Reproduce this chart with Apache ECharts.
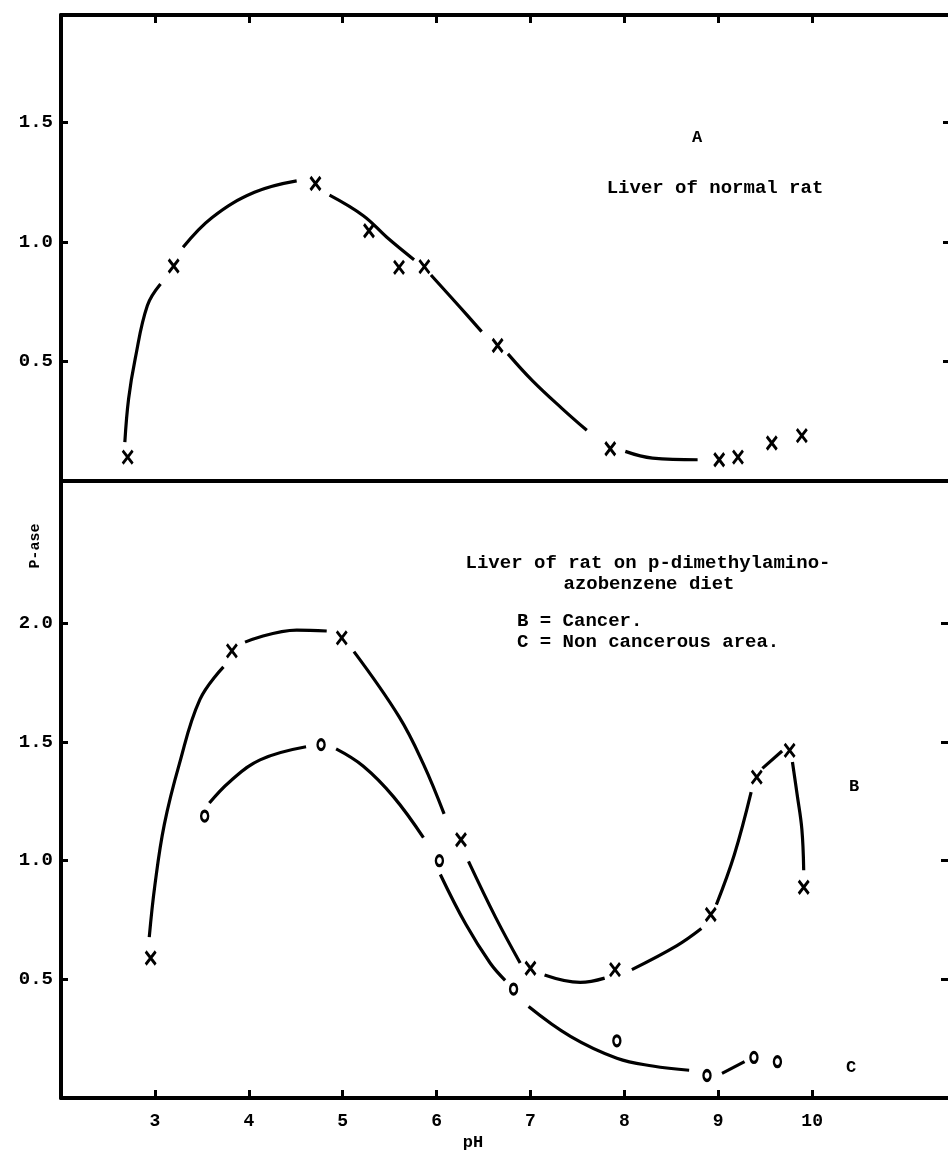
<!DOCTYPE html>
<html>
<head>
<meta charset="utf-8">
<script src="https://cdn.jsdelivr.net/npm/echarts@6/dist/echarts.min.js"></script>
<style>
  html, body { margin: 0; padding: 0; background: #fff; overflow: hidden; }
  #chart { width: 958px; height: 1150px; }
</style>
</head>
<body>
<div id="chart"></div>
<script>
// tick values
var phTicks = [3, 4, 5, 6, 7, 8, 9, 10];
var topYTicks = [0.5, 1.0, 1.5];
var bottomYTicks = [0.5, 1.0, 1.5, 2.0];

// A: liver of normal rat (pH, P-ase)
var markersA = [[2.71, 0.10], [3.20, 0.90], [4.71, 1.245], [5.28, 1.047], [5.60, 0.894], [5.87, 0.897],
    [6.65, 0.567], [7.85, 0.135], [9.01, 0.089], [9.21, 0.10], [9.57, 0.159], [9.89, 0.19]];
// hand drawn curve, broken at the markers
var curveA = [
    [[2.68, 0.163], [2.72, 0.344], [2.79, 0.511], [2.92, 0.734], [3.06, 0.824]],
    [[3.30, 0.978], [3.61, 1.103], [4.06, 1.208], [4.51, 1.256]],
    [[4.86, 1.196], [5.22, 1.11], [5.47, 1.02], [5.76, 0.926]],
    [[5.94, 0.862], [6.25, 0.727], [6.48, 0.625]],
    [[6.76, 0.532], [7.02, 0.42], [7.34, 0.302], [7.60, 0.212]],
    [[8.01, 0.124], [8.30, 0.096], [8.78, 0.089]]
];

// B: cancer
var markersB = [[2.955, 0.59], [3.82, 1.884], [4.99, 1.939], [6.26, 1.088], [7.0, 0.547],
    [7.90, 0.541], [8.92, 0.773], [9.41, 1.352], [9.76, 1.465], [9.91, 0.888]];
var curveB = [
    [[2.94, 0.678], [3.0, 0.897], [3.10, 1.152], [3.26, 1.407], [3.48, 1.68], [3.73, 1.817]],
    [[3.96, 1.921], [4.51, 1.972], [4.83, 1.968]],
    [[5.12, 1.881], [5.60, 1.607], [5.86, 1.407], [6.08, 1.197]],
    [[6.34, 0.997], [6.63, 0.76], [6.89, 0.569]],
    [[7.15, 0.518], [7.53, 0.487], [7.79, 0.505]],
    [[8.08, 0.541], [8.56, 0.642], [8.82, 0.714]],
    [[8.98, 0.815], [9.17, 1.024], [9.35, 1.289]],
    [[9.47, 1.389], [9.68, 1.462]],
    [[9.79, 1.416], [9.84, 1.279], [9.89, 1.134], [9.91, 0.96]]
];

// C: non cancerous area
var markersC = [[3.53, 1.188], [4.77, 1.489], [6.03, 1.0], [6.82, 0.459], [7.92, 0.241],
    [8.88, 0.095], [9.38, 0.171], [9.63, 0.153]];
var curveC = [
    [[3.58, 1.243], [3.80, 1.334], [4.12, 1.425], [4.61, 1.48]],
    [[4.93, 1.471], [5.22, 1.398], [5.54, 1.27], [5.86, 1.097]],
    [[6.04, 0.942], [6.31, 0.733], [6.57, 0.569], [6.73, 0.496]],
    [[6.98, 0.386], [7.43, 0.259], [7.92, 0.168], [8.30, 0.135], [8.69, 0.117]],
    [[9.04, 0.104], [9.28, 0.153]]
];

var FONT = '"Liberation Mono", "DejaVu Sans Mono", monospace';
var CROSS = 'path://M0,0L10,12M10,0L0,12';

// the chart is a little wider than the window: the right frame falls just outside, as in the scan
var dom = document.getElementById('chart');
var myChart = echarts.init(dom, null, { renderer: 'canvas' });

function frameX(gridIndex, position, ticks, labels) {
    return {
        type: 'value', gridIndex: gridIndex, position: position, min: 2, max: 11.5,
        axisLine: { show: true, onZero: false, lineStyle: { color: '#000', width: 4 } },
        axisTick: ticks ? { show: true, inside: true, length: 8, lineStyle: { color: '#000', width: 3 }, customValues: phTicks } : { show: false },
        axisLabel: labels ? {
            show: true, customValues: phTicks, margin: 14, color: '#000',
            fontFamily: FONT, fontWeight: 'bold', fontSize: 18
        } : { show: false },
        splitLine: { show: false }
    };
}

function frameY(gridIndex, position, max, ticks, labels, lift, tickLen) {
    return {
        type: 'value', gridIndex: gridIndex, position: position, min: 0, max: max,
        axisLine: { show: true, onZero: false, lineStyle: { color: '#000', width: 4 } },
        axisTick: { show: true, inside: true, length: tickLen, lineStyle: { color: '#000', width: 3 }, customValues: ticks },
        axisLabel: labels ? {
            show: true, customValues: ticks, margin: 8, color: '#000',
            fontFamily: FONT, fontWeight: 'bold', fontSize: 19,
            padding: [0, 0, lift, 0],
            formatter: function (v) { return v.toFixed(1); }
        } : { show: false },
        splitLine: { show: false }
    };
}

function curveSeries(segs, xi, yi) {
    return segs.map(function (seg) {
        return {
            type: 'line', xAxisIndex: xi, yAxisIndex: yi, data: seg,
            smooth: 0.4, symbol: 'none', silent: true,
            lineStyle: { color: '#000', width: 3.2 }
        };
    });
}

function crossSeries(data, xi, yi) {
    return {
        type: 'scatter', xAxisIndex: xi, yAxisIndex: yi, data: data,
        symbol: CROSS, symbolSize: [10, 13], z: 5,
        itemStyle: { color: '#000', borderColor: '#000', borderWidth: 3, opacity: 1 }
    };
}

function ringSeries(data, xi, yi) {
    return {
        type: 'scatter', xAxisIndex: xi, yAxisIndex: yi, data: data,
        symbol: 'circle', symbolSize: [7, 10], z: 5,
        itemStyle: { color: '#fff', borderColor: '#000', borderWidth: 2.8, opacity: 1 }
    };
}

function txt(text, x, y, size, align, extra) {
    var el = {
        type: 'text', x: x, y: y, z: 100,
        style: {
            text: text, fill: '#000', font: 'bold ' + size + 'px ' + FONT,
            textAlign: align || 'center', textVerticalAlign: 'middle'
        }
    };
    if (extra) { for (var k in extra) el[k] = extra[k]; }
    return el;
}

var series = []
    .concat(curveSeries(curveA, 0, 0))
    .concat([crossSeries(markersA, 0, 0)])
    .concat(curveSeries(curveB, 2, 2))
    .concat(curveSeries(curveC, 2, 2))
    .concat([crossSeries(markersB, 2, 2), ringSeries(markersC, 2, 2)]);

var option = {
    backgroundColor: '#fff',
    animation: false,
    grid: [
        { left: 61, top: 15, right: 5, height: 466 },
        { left: 61, top: 481, right: 5, height: 617 }
    ],
    xAxis: [
        frameX(0, 'top', true, false),
        frameX(0, 'bottom', false, false),
        frameX(1, 'bottom', true, true)
    ],
    yAxis: [
        frameY(0, 'left', 1.95, topYTicks, true, 18, 7),
        frameY(0, 'right', 1.95, topYTicks, false, 0, 10),
        frameY(1, 'left', 2.6, bottomYTicks, true, 12, 7),
        frameY(1, 'right', 2.6, bottomYTicks, false, 0, 12)
    ],
    graphic: [
        txt('A', 697, 138, 17),
        txt('Liver of normal rat', 715, 188, 19),
        txt('Liver of rat on p-dimethylamino-', 648, 563, 19),
        txt('azobenzene diet', 649, 584, 19),
        txt('B = Cancer.', 517, 621, 19, 'left'),
        txt('C = Non cancerous area.', 517, 642, 19, 'left'),
        txt('B', 854, 787, 17),
        txt('C', 851, 1068, 17),
        txt('pH', 473, 1143, 17),
        txt('P-ase', 35, 546, 15, 'center', { rotation: Math.PI / 2 })
    ],
    series: series
};

if (option && typeof option === 'object') {
    myChart.setOption(option);
}

window.addEventListener('resize', myChart.resize);
</script>
</body>
</html>
